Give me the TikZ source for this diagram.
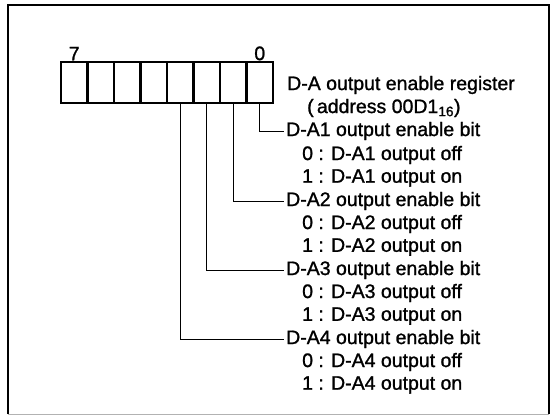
\documentclass[tikz,border=0pt]{standalone}
\usepackage{fontspec}
\setmainfont{Liberation Sans}[BoldFont=Liberation Sans,BoldFeatures={FakeBold=1.2}]
\usetikzlibrary{positioning}
\tikzset{
  every node/.style={font=\fontsize{19.5}{22}\selectfont\bfseries},
  cell/.style={rectangle,draw=black,line width=2.4pt,minimum width=26.5pt,
    minimum height=41pt,inner sep=0pt,outer sep=0pt},
  bitnum/.style={inner sep=0.5pt},
  desc/.style={anchor=west,inner xsep=2pt,inner ysep=0pt},
  leader/.style={draw=black,line width=0.8pt},
  frame/.style={draw=black,line width=2pt},
}

\begin{document}
\begin{tikzpicture}[x=1pt,y=-1pt]
\useasboundingbox (0,0) rectangle (554,419);

% outer frame
\draw[frame] (8,414) -- (8,5) -- (549,5) -- (549,414);
\draw[black!30,line width=0.8pt] (8,414) -- (549,414);

% register cells, bit 7 left ... bit 0 right
\foreach \i in {0,...,7}
  \node[cell] (b\i) at ({259.75-26.5*\i},82.5) {};

\node[bitnum,above=1pt of b7] (n7) {7};
\node[bitnum,above=1pt of b0] (n0) {0};

\node[desc] (reg)  at (285,85)  {D-A output enable register};
\node[desc] (addr) at (305,108) {(\,address 00D1\textsubscript{16})};

\node[desc] (en1)  at (284,131) {D-A1 output enable bit};
\node[desc] (off1) at (300,155) {0 : D-A1 output off};
\node[desc] (on1)  at (300,178) {1 : D-A1 output on};

\node[desc] (en2)  at (284,201) {D-A2 output enable bit};
\node[desc] (off2) at (300,224) {0 : D-A2 output off};
\node[desc] (on2)  at (300,247) {1 : D-A2 output on};

\node[desc] (en3)  at (284,270) {D-A3 output enable bit};
\node[desc] (off3) at (300,293) {0 : D-A3 output off};
\node[desc] (on3)  at (300,316) {1 : D-A3 output on};

\node[desc] (en4)  at (284,339) {D-A4 output enable bit};
\node[desc] (off4) at (300,362) {0 : D-A4 output off};
\node[desc] (on4)  at (300,385) {1 : D-A4 output on};

% leaders from the bits
\draw[leader] (b0.south) |- (en1.west);
\draw[leader] (b1.south) |- (en2.west);
\draw[leader] (b2.south) |- (en3.west);
\draw[leader] (b3.south) |- (en4.west);

\end{tikzpicture}
\end{document}
